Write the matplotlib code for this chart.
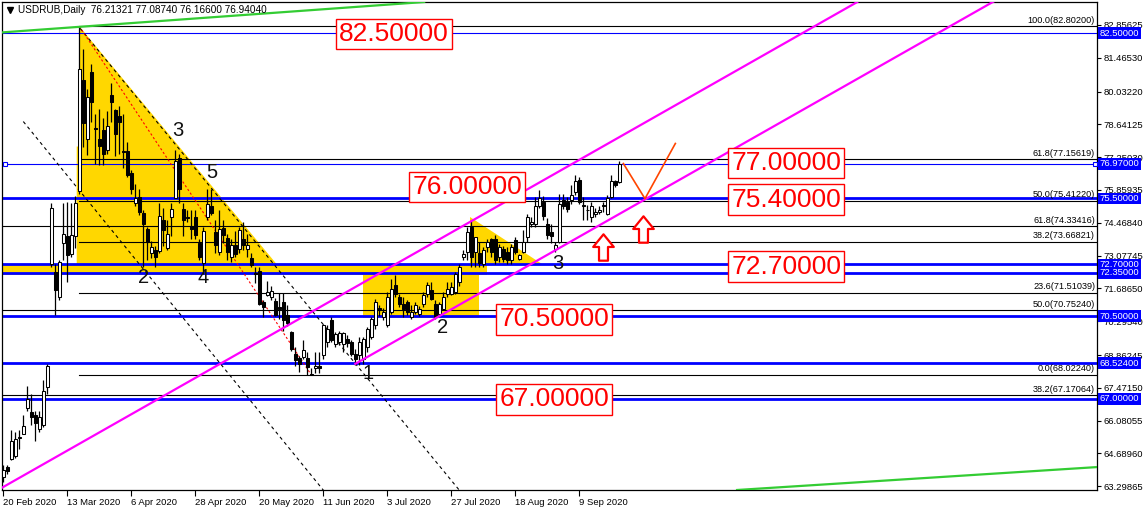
import matplotlib
matplotlib.use("Agg")
import matplotlib.pyplot as plt
import numpy as np
from matplotlib.patches import Polygon
from matplotlib.path import Path
from matplotlib.transforms import blended_transform_factory

SMALL_FONT = "Liberation Sans"

symbol = "USDRUB,Daily"

# daily candles, bar 0 = 20 Feb 2020
opens = [
    63.70, 64.10, 64.45, 64.60, 65.35, 65.50, 66.60, 66.45, 66.30, 65.73,
    65.90, 67.50, 72.70, 72.40, 71.33, 73.60, 73.92, 73.16, 73.90, 75.83,
    80.50, 78.04, 80.84, 78.50, 78.04, 78.38, 77.57, 79.90, 79.23, 78.98,
    77.50, 77.49, 76.56, 75.32, 75.54, 74.90, 74.20, 73.20, 73.30, 73.29,
    74.60, 73.41, 74.73, 75.50, 77.20, 75.07, 74.70, 74.35, 74.73, 73.63,
    72.78, 74.73, 75.20, 74.09, 73.24, 74.26, 73.84, 73.03, 73.54, 73.37,
    73.80, 73.37, 72.99, 72.32, 72.44, 71.12, 71.42, 71.33, 71.16, 70.90,
    71.12, 70.57, 69.85, 68.91, 68.74, 68.78, 68.74, 68.05, 68.30, 68.40,
    68.87, 69.42, 70.35, 69.33, 69.42, 69.33, 69.55, 69.42, 68.91, 68.87,
    68.70, 69.21, 69.63, 70.14, 70.86, 70.48, 70.14, 70.69, 71.84, 71.33,
    71.03, 71.12, 70.48, 70.69, 70.61, 71.03, 71.46, 71.63, 71.03, 70.60,
    70.82, 71.46, 71.46, 71.54, 71.97, 73.03, 73.24, 74.31, 73.24, 73.17,
    72.74, 73.46, 73.80, 73.80, 73.03, 73.37, 73.24, 72.90, 73.75, 72.95,
    73.24, 73.88, 74.40, 74.43, 75.16, 75.37, 74.43, 74.09, 73.37, 73.67,
    75.45, 75.37, 75.45, 75.79, 76.30, 75.24, 75.03, 74.73, 74.86, 74.94,
    75.24, 74.86, 75.58, 76.22, 76.21321,
]
highs = [
    64.20, 64.20, 65.70, 65.60, 65.70, 66.30, 67.55, 67.20, 66.50, 66.50,
    67.80, 68.50, 75.30, 72.70, 72.90, 75.30, 75.37, 75.30, 75.60, 82.80,
    81.82, 80.16, 81.18, 79.10, 79.30, 78.90, 79.20, 80.40, 79.30, 79.40,
    79.10, 77.90, 76.70, 76.10, 75.90, 75.00, 74.30, 73.70, 73.50, 75.30,
    75.10, 74.60, 75.30, 77.55, 77.40, 75.30, 75.00, 75.00, 75.00, 73.80,
    74.30, 75.90, 75.90, 74.60, 75.00, 74.60, 74.00, 73.80, 74.10, 74.30,
    74.50, 74.00, 73.20, 72.60, 72.60, 71.20, 72.00, 71.80, 71.30, 71.50,
    71.50, 71.00, 69.90, 69.20, 68.80, 69.50, 69.00, 68.30, 69.00, 69.00,
    70.19, 70.14, 70.48, 69.84, 69.90, 69.84, 69.70, 69.50, 69.10, 69.63,
    69.63, 70.05, 70.48, 71.25, 71.00, 70.85, 71.54, 72.10, 72.27, 71.46,
    71.33, 71.20, 70.99, 71.12, 70.95, 71.54, 71.97, 71.97, 71.20, 71.12,
    71.54, 71.97, 71.97, 72.39, 72.70, 73.30, 74.30, 74.60, 73.70, 73.67,
    73.46, 73.80, 73.84, 73.97, 73.55, 73.50, 73.46, 73.55, 73.88, 73.16,
    74.18, 74.85, 74.73, 75.58, 75.85, 75.60, 74.65, 74.40, 73.67, 75.70,
    75.70, 75.58, 76.08, 76.50, 76.39, 75.58, 75.24, 75.37, 75.10, 75.20,
    75.37, 75.66, 76.50, 76.30, 77.08740,
]
lows = [
    63.50, 63.80, 64.40, 64.50, 64.90, 65.50, 66.50, 65.90, 65.20, 65.60,
    65.80, 67.20, 72.60, 70.57, 71.20, 72.90, 71.97, 73.00, 73.40, 75.70,
    77.70, 77.36, 78.76, 76.94, 76.90, 76.90, 77.40, 78.76, 77.30, 77.40,
    76.80, 76.40, 75.70, 75.20, 74.80, 72.60, 72.90, 72.97, 72.60, 73.20,
    73.50, 73.30, 73.90, 75.50, 75.30, 73.90, 74.50, 73.80, 73.80, 72.90,
    72.30, 74.60, 74.80, 73.20, 73.10, 73.60, 72.90, 72.80, 73.00, 73.20,
    73.30, 73.00, 72.60, 71.90, 71.00, 70.48, 71.35, 71.20, 70.50, 70.40,
    69.90, 70.10, 69.05, 68.40, 68.15, 68.70, 68.00, 68.02, 68.10, 68.10,
    68.70, 69.21, 69.42, 69.20, 69.30, 69.00, 69.20, 68.80, 68.45, 68.45,
    68.50, 69.00, 69.55, 69.97, 70.50, 70.35, 70.05, 70.60, 71.33, 70.90,
    70.48, 70.55, 70.40, 70.60, 70.50, 70.90, 71.33, 71.20, 70.40, 70.50,
    70.80, 71.33, 71.40, 71.46, 71.80, 72.90, 72.90, 72.60, 72.60, 72.61,
    72.61, 73.24, 73.00, 72.74, 72.82, 72.82, 72.74, 72.74, 73.16, 72.90,
    73.20, 73.67, 74.31, 74.30, 75.10, 74.60, 73.80, 73.60, 73.24, 73.60,
    75.07, 74.94, 75.28, 75.66, 75.28, 74.60, 74.60, 74.52, 74.70, 74.85,
    74.94, 74.80, 75.50, 76.00, 76.16600,
]
closes = [
    64.00, 63.95, 65.20, 65.30, 65.40, 65.85, 67.00, 66.25, 66.00, 66.24,
    67.34, 68.40, 75.10, 71.60, 72.82, 74.00, 73.12, 73.96, 75.30, 80.97,
    78.68, 79.78, 79.57, 78.45, 77.74, 77.40, 78.59, 79.57, 78.25, 78.76,
    77.45, 76.50, 75.92, 75.50, 74.94, 74.40, 73.67, 73.46, 73.03, 74.77,
    74.18, 74.00, 75.07, 77.07, 75.92, 74.60, 74.65, 74.20, 73.96, 73.03,
    74.13, 75.28, 74.90, 73.54, 74.22, 73.96, 73.24, 73.54, 73.16, 74.18,
    73.54, 73.54, 72.69, 72.28, 71.04, 70.90, 71.54, 71.58, 70.57, 70.82,
    70.36, 70.23, 69.12, 68.66, 68.49, 69.08, 68.36, 68.02, 68.40, 68.30,
    70.14, 69.97, 69.50, 69.76, 69.80, 69.80, 69.38, 68.91, 68.70, 69.42,
    69.55, 69.97, 70.39, 71.12, 70.78, 70.69, 71.33, 71.67, 71.46, 71.03,
    70.82, 70.69, 70.69, 70.99, 70.82, 71.42, 71.84, 71.25, 70.48, 71.03,
    71.33, 71.67, 71.76, 72.31, 72.61, 73.16, 74.09, 73.00, 73.88, 72.75,
    73.33, 73.67, 73.24, 72.90, 73.46, 72.95, 72.90, 73.46, 73.24, 73.12,
    73.67, 74.73, 74.52, 75.16, 75.50, 74.77, 73.97, 73.92, 73.54, 75.28,
    75.16, 75.07, 75.66, 76.26, 75.37, 75.16, 74.99, 75.16, 74.94, 75.03,
    75.16, 75.50, 76.22, 76.09, 76.94040,
]

date_ticks = [0, 16, 32, 48, 64, 80, 96, 112, 128, 144]
date_labels = ["20 Feb 2020", "13 Mar 2020", "6 Apr 2020", "28 Apr 2020",
               "20 May 2020", "11 Jun 2020", "3 Jul 2020", "27 Jul 2020",
               "18 Aug 2020", "9 Sep 2020"]

price_ticks = [82.85625, 81.46530, 80.03220, 78.64125, 77.25030, 75.85935,
               74.46840, 73.07745, 71.68650, 70.29540, 68.86245, 67.47150,
               66.08055, 64.68960, 63.29865]

# horizontal levels (price, thick?)
hlines = [82.50, 76.97, 75.50, 72.70, 72.35, 70.50, 68.524, 67.00]
hline_thick = [False, False, True, True, True, True, True, True]

# fibo from the March high to the June low, drawn from bar 19
fib_a_pct = [100.0, 61.8, 50.0, 38.2, 23.6, 0.0]
fib_a_price = [82.80200, 77.15619, 75.41220, 73.66821, 71.51039, 68.02240]
fib_a_start = 19
# second fibo, full width
fib_b_pct = [61.8, 50.0, 38.2]
fib_b_price = [74.33416, 70.75240, 67.17064]

# boxed price captions: text, bar, price (centre)
captions = [("82.50000", 97.7, 82.47), ("76.00000", 116.0, 75.985),
            ("77.00000", 195.7, 77.00), ("75.40000", 195.7, 75.455),
            ("72.70000", 195.7, 72.615), ("70.50000", 137.7, 70.37),
            ("67.00000", 137.7, 66.98)]

# wave counts
waves = [("3", 43.7, 78.40), ("5", 52.0, 76.58), ("2", 35.0, 72.13),
         ("4", 50.0, 72.13), ("1", 91.2, 68.10), ("2", 109.7, 70.01),
         ("3", 138.7, 72.76)]

# drawing objects as (bar, price) anchors
channel_upper = [(0, 63.27), (200, 82.53)]
channel_lower = [(88, 68.49), (160, 75.42)]
channel_lower_end = 280
green_top = [(-1, 82.53), (103, 83.80)]
green_bottom = [(175, 63.05), (275, 64.13)]
dash_one = [(5, 78.76), (80.4, 63.05)]
dash_two = [(19.2, 82.71), (114.4, 63.05)]
fib_base = [(19, 82.80), (77, 68.02)]
v_path = [(155, 76.98), (160.4, 75.49), (168, 77.83)]
arrows_up = [(150, 73.45), (160, 74.21)]

yellow_big = [(18.35, 77.70), (19.0, 77.70), (19.0, 82.80), (68.4, 72.70),
              (18.35, 72.70)]
yellow_band = [(-1, 72.26), (121, 72.26), (121, 72.71), (-1, 72.71)]
yellow_box = [(90, 70.45), (119, 70.45), (119, 72.35), (90, 72.35)]
yellow_small = [(116.7, 74.70), (116.7, 72.70), (134.6, 72.70)]

# hollow up-arrow marker shape (unit box)
ARROW_MARKER = Path([(-0.17, -0.5), (0.17, -0.5), (0.17, 0.02), (0.39, 0.02),
                     (0.0, 0.5), (-0.39, 0.02), (-0.17, 0.02), (-0.17, -0.5)],
                    closed=True)

fig = plt.figure(figsize=(11.48, 5.11), dpi=100)
ax = fig.add_axes([2 / 1148, 21 / 511, 1095 / 1148, 488 / 511])
ax.set_xlim(-0.325, 273.4)
ax.set_ylim(63.141, 83.827)

for shape in (yellow_big, yellow_band, yellow_box, yellow_small):
    ax.add_patch(Polygon(shape, closed=True, facecolor="#ffd700",
                         edgecolor="none", zorder=1))

# horizontal levels
for level, thick in zip(hlines, hline_thick):
    ax.axhline(level, color="#0000ff", lw=2.0 if thick else 0.8, zorder=2)
ax.plot([0.4, 272.9], [76.97, 76.97], ls="none", marker="s", ms=3.5,
        mfc="white", mec="#0000ff", mew=0.8, zorder=6)

# fibo lines and captions
for pct, price in zip(fib_a_pct, fib_a_price):
    ax.plot([fib_a_start, 300], [price, price], color="black", lw=0.8, zorder=2)
for pct, price in zip(fib_b_pct, fib_b_price):
    ax.axhline(price, color="black", lw=0.8, zorder=2)
for pct, price in list(zip(fib_a_pct, fib_a_price)) + list(zip(fib_b_pct, fib_b_price)):
    ax.text(272.9, price + 0.06, f"{pct:.1f}({price:.5f})", ha="right",
            va="bottom", fontsize=6.6, family=SMALL_FONT, color="black", zorder=5)

# dashed and dotted trend lines
for seg in (dash_one, dash_two):
    (x0, y0), (x1, y1) = seg
    ax.plot([x0, x1], [y0, y1], color="black", lw=0.8, ls=(0, (3, 3)), zorder=2)
(x0, y0), (x1, y1) = fib_base
ax.plot([x0, x1], [y0, y1], color="red", lw=0.8, ls=(0, (2, 2)), zorder=2)

# candles
bars = np.arange(len(opens))
o = np.array(opens)
c = np.array(closes)
h = np.maximum(np.array(highs), np.maximum(o, c))
lo = np.minimum(np.array(lows), np.minimum(o, c))
ax.vlines(bars, lo, h, color="black", lw=0.9, zorder=3)
body = np.maximum(np.abs(c - o), 0.03)
up = c >= o
ax.bar(bars[up], body[up], bottom=np.minimum(o, c)[up], width=0.62,
       facecolor="white", edgecolor="black", linewidth=0.75, zorder=3.1)
ax.bar(bars[~up], body[~up], bottom=np.minimum(o, c)[~up], width=0.62,
       facecolor="black", edgecolor="black", linewidth=0.75, zorder=3.1)

# channels
ax.axline(channel_upper[0], channel_upper[1], color="#ff00ff", lw=1.6, zorder=4)
(x0, y0), (x1, y1) = channel_lower
slope = (y1 - y0) / (x1 - x0)
ax.plot([x0, channel_lower_end], [y0, y0 + slope * (channel_lower_end - x0)],
        color="#ff00ff", lw=1.6, zorder=4)
ax.axline(green_top[0], green_top[1], color="#33cc33", lw=1.6, zorder=4)
ax.axline(green_bottom[0], green_bottom[1], color="#33cc33", lw=1.6, zorder=4)

vx, vy = zip(*v_path)
ax.plot(vx, vy, color="orangered", lw=1.2, zorder=4)
ax_x, ax_y = zip(*arrows_up)
ax.plot(ax_x, ax_y, ls="none", marker=ARROW_MARKER, ms=19, mfc="white",
        mec="red", mew=1.6, zorder=5)

for text, bx, by in captions:
    ax.text(bx, by, text, ha="center", va="center", fontsize=19,
            family="Liberation Sans", color="red", zorder=6,
            bbox=dict(boxstyle="square,pad=0.12", facecolor="white",
                      edgecolor="red", linewidth=1.0))

for text, bx, by in waves:
    ax.text(bx, by, text, ha="center", va="center", fontsize=14.5,
            family="Liberation Sans", color="#111111", zorder=6)

# header
hdr = f"{symbol}  {opens[-1]:.5f} {highs[-1]:.5f} {lows[-1]:.5f} {closes[-1]:.5f}"
ax.text(0.0145, 0.984, hdr, transform=ax.transAxes, ha="left", va="center",
        fontsize=7.2, family=SMALL_FONT, color="black", zorder=7)
ax.plot([0.0075], [0.984], transform=ax.transAxes, marker="v", ms=4,
        color="black", zorder=7, clip_on=False)

# axes
ax.yaxis.tick_right()
ax.set_yticks(price_ticks)
ax.set_yticklabels([f"{p:.5f}" for p in price_ticks], family=SMALL_FONT,
                   fontsize=6.8)
ax.set_xticks(date_ticks)
ax.set_xticklabels(date_labels, family=SMALL_FONT, fontsize=6.8, ha="left")
ax.tick_params(axis="y", direction="out", length=3, width=0.8, pad=2,
               colors="black")
ax.tick_params(axis="x", direction="out", length=4, width=0.8, pad=2,
               colors="black")
for spine in ax.spines.values():
    spine.set_color("black")
    spine.set_linewidth(0.9)

# level tags on the price scale
tag_tr = blended_transform_factory(ax.transAxes, ax.transData)
for level in hlines:
    ax.text(1.0025, level, f"{level:.5f}", transform=tag_tr, ha="left",
            va="center", fontsize=6.8, family=SMALL_FONT, color="white",
            zorder=8, clip_on=False,
            bbox=dict(boxstyle="square,pad=0.15", facecolor="#0000ff",
                      edgecolor="none"))

fig.savefig("out.png", dpi=100, facecolor="white")
